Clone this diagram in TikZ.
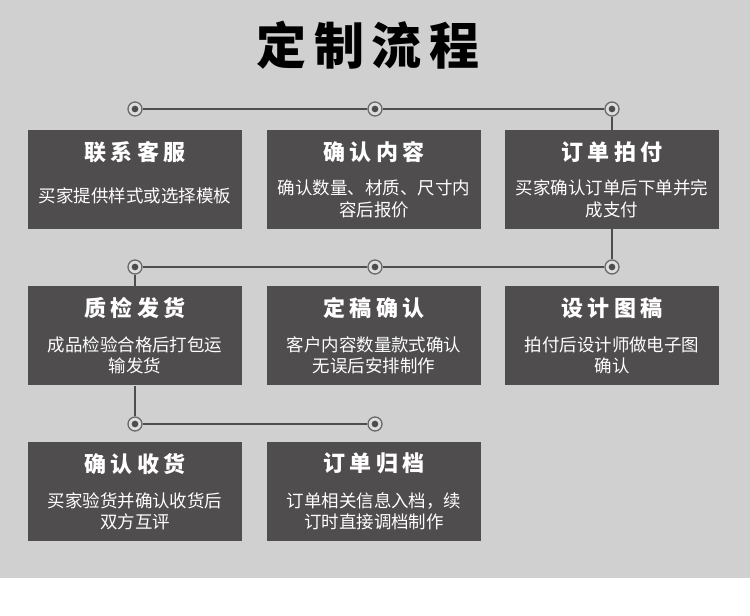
\documentclass[tikz,border=0pt]{standalone}
\usepackage{tikz}
\usepackage{fontspec}
\setmainfont{Noto Sans CJK SC}
\newfontfamily\cjkhead[LetterSpace=15]{Noto Sans CJK SC}
\newfontfamily\cjkwide[LetterSpace=20]{Noto Sans CJK SC}
\definecolor{pagegray}{HTML}{D1D0D1}
\definecolor{cardgray}{HTML}{4F4D4E}
\definecolor{linkgray}{HTML}{4E4C4D}
\definecolor{ringgray}{HTML}{6B6A6B}
\definecolor{jointfill}{HTML}{DEDDDE}

\begin{document}
\begin{tikzpicture}[x=0.75pt, y=-0.75pt,
    card/.style={fill=cardgray, minimum width=160.5pt, minimum height=74.25pt, inner sep=0pt},
    cardhead/.style={text=white, inner sep=0pt, font=\cjkwide\bfseries\fontsize{16.5}{18}\selectfont},
    cardtext/.style={text=white, inner sep=0pt, align=center, font=\fontsize{13.1}{16.1}\selectfont},
    joint/.style={circle, draw=ringgray, line width=1pt, fill=jointfill, minimum size=10.5pt, inner sep=0pt,
        path picture={\fill[linkgray] (path picture bounding box.center) circle (2.5pt);}},
    link/.style={draw=linkgray, line width=1.5pt}]
            \useasboundingbox (0,0) rectangle (750,616);
            \fill[pagegray] (0,0) rectangle (750,578);
            \fill[white] (0,578) rectangle (750,616);
            \node[font=\cjkhead\bfseries\fontsize{37.5}{40}\selectfont, inner sep=0pt] (title) at (368,45) {定制流程};

            \node[joint] (j11) at (135,109) {};
            \node[joint] (j12) at (375,109) {};
            \node[joint] (j13) at (612,109) {};
            \node[joint] (j21) at (135,267) {};
            \node[joint] (j22) at (375,267) {};
            \node[joint] (j23) at (612,267) {};
            \node[joint] (j31) at (135,424) {};
            \node[joint] (j32) at (375,424) {};

            \node[card] (c1) at (135,179.5) {};
            \node[cardhead] (c1h) at ([yshift=-16.5pt]c1.north) {联系客服};
            \node[cardtext] (c1t) at ([yshift=-49.5pt]c1.north) {买家提供样式或选择模板};
            \node[card] (c2) at (374,179.5) {};
            \node[cardhead] (c2h) at ([yshift=-16.5pt]c2.north) {确认内容};
            \node[cardtext] (c2t) at ([yshift=-52pt]c2.north) {确认数量、材质、尺寸内\\容后报价};
            \node[card] (c3) at (612,179.5) {};
            \node[cardhead] (c3h) at ([yshift=-16.5pt]c3.north) {订单拍付};
            \node[cardtext] (c3t) at ([yshift=-52pt]c3.north) {买家确认订单后下单并完\\成支付};

            \node[card] (c4) at (135,336) {};
            \node[cardhead] (c4h) at ([yshift=-16.5pt]c4.north) {质检发货};
            \node[cardtext] (c4t) at ([yshift=-52pt]c4.north) {成品检验合格后打包运\\输发货};
            \node[card] (c5) at (374,336) {};
            \node[cardhead] (c5h) at ([yshift=-16.5pt]c5.north) {定稿确认};
            \node[cardtext] (c5t) at ([yshift=-52pt]c5.north) {客户内容数量款式确认\\无误后安排制作};
            \node[card] (c6) at (612,336) {};
            \node[cardhead] (c6h) at ([yshift=-16.5pt]c6.north) {设计图稿};
            \node[cardtext] (c6t) at ([yshift=-52pt]c6.north) {拍付后设计师做电子图\\确认};

            \node[card] (c7) at (135,491.5) {};
            \node[cardhead] (c7h) at ([yshift=-16.5pt]c7.north) {确认收货};
            \node[cardtext] (c7t) at ([yshift=-52pt]c7.north) {买家验货并确认收货后\\双方互评};
            \node[card] (c8) at (374,491.5) {};
            \node[cardhead] (c8h) at ([yshift=-16.5pt]c8.north) {订单归档};
            \node[cardtext] (c8t) at ([yshift=-52pt]c8.north) {订单相关信息入档，续\\订时直接调档制作};

            \draw[link] (j11) -- (j12) -- (j13);
            \draw[link] (j13) -- (c3);
            \draw[link] (c3) -- (j23);
            \draw[link] (j23) -- (j22) -- (j21);
            \draw[link] (j21) -- (c4);
            \draw[link] (c4) -- (j31);
            \draw[link] (j31) -- (j32);
        \end{tikzpicture}
\end{document}
